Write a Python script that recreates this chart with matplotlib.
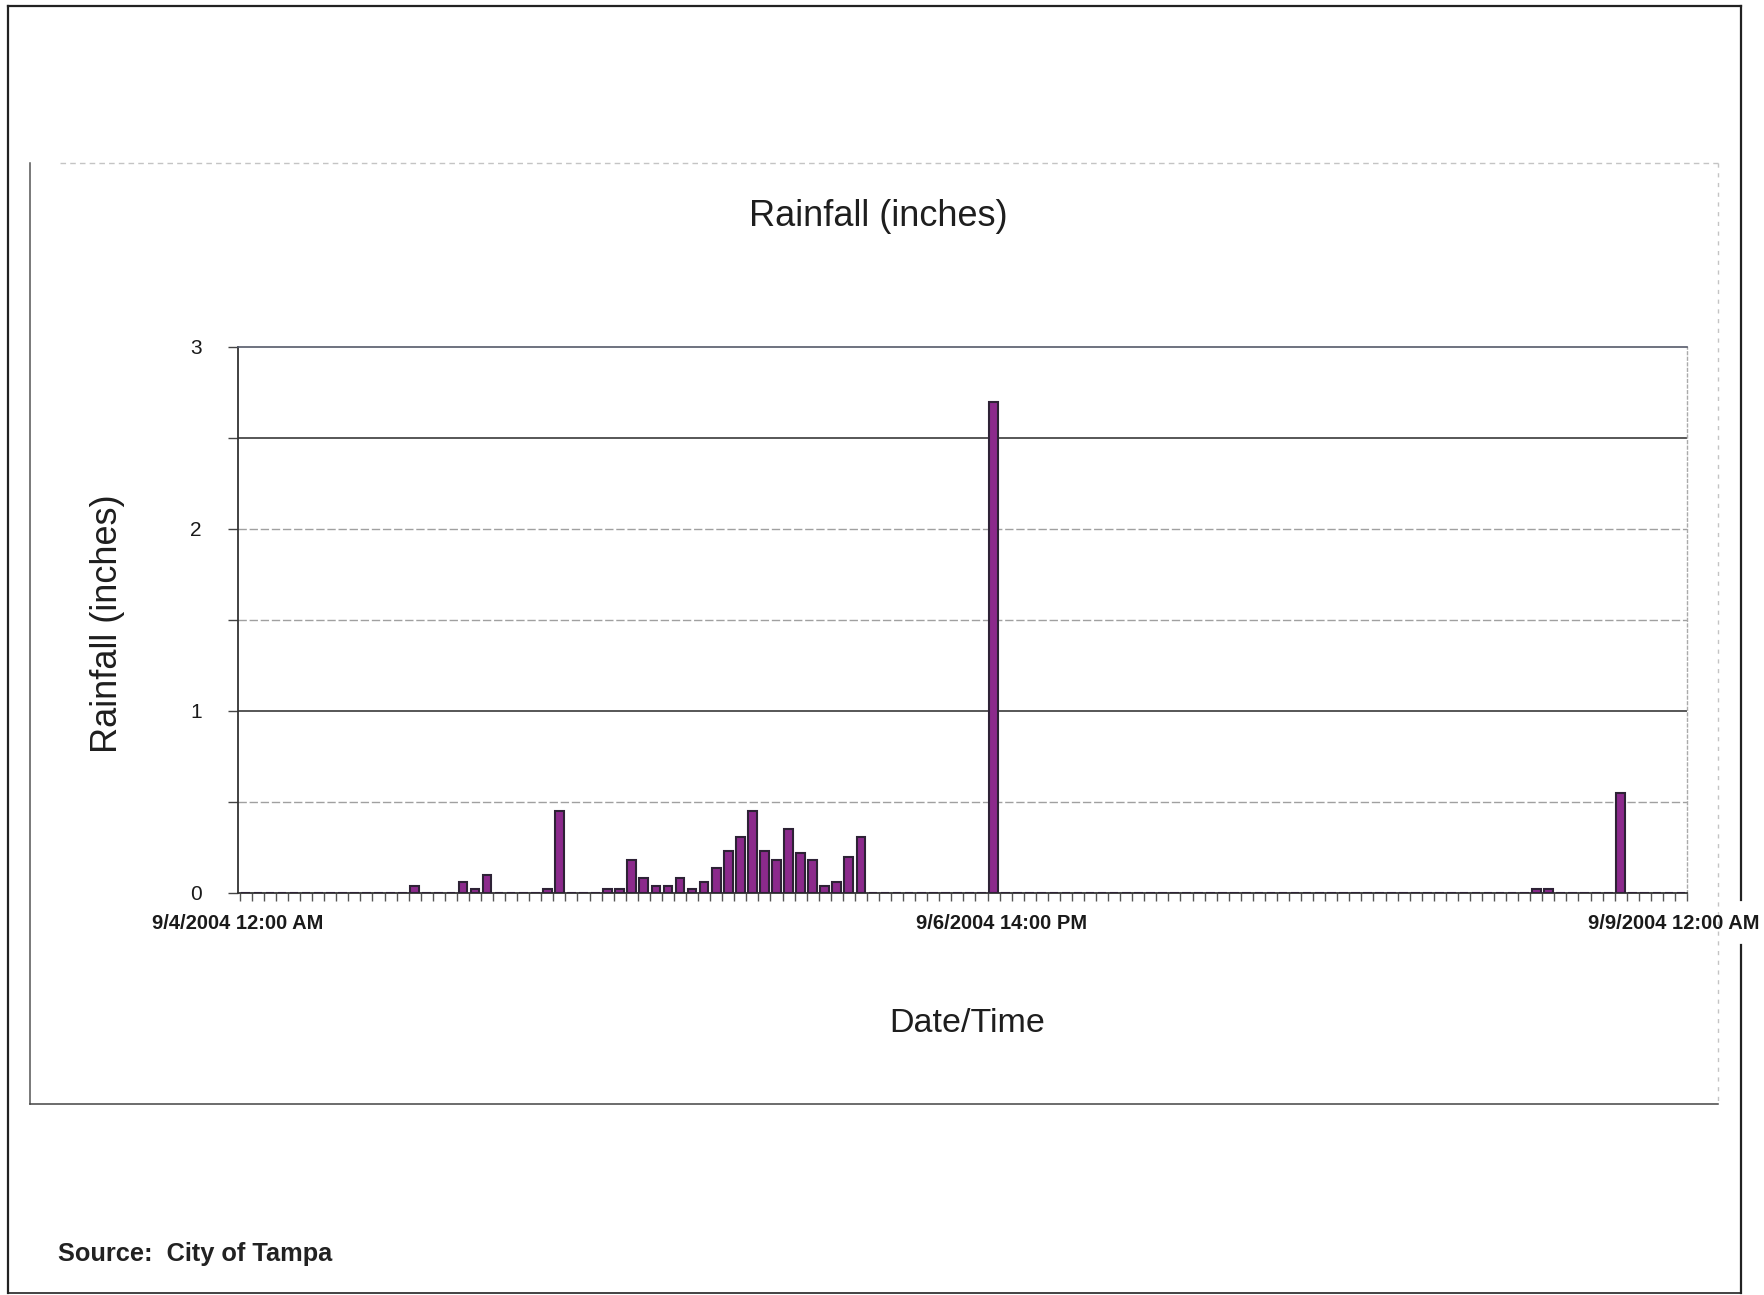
import numpy as np
import pandas as pd
import matplotlib
matplotlib.use("Agg")
import matplotlib.pyplot as plt
from matplotlib.lines import Line2D

plt.rcParams["font.family"] = ["Liberation Sans", "DejaVu Sans"]

# Hourly rainfall, 9/4/2004 00:00 through 9/8/2004 23:00 (inches)
hours = pd.date_range("2004-09-04 00:00", periods=120, freq="h")
rainfall = [
    0.00, 0.00, 0.00, 0.00, 0.00, 0.00, 0.00, 0.00, 0.00, 0.00, 0.00, 0.00,
    0.00, 0.00, 0.04, 0.00, 0.00, 0.00, 0.06, 0.02, 0.10, 0.00, 0.00, 0.00,
    0.00, 0.02, 0.45, 0.00, 0.00, 0.00, 0.02, 0.02, 0.18, 0.08, 0.04, 0.04,
    0.08, 0.02, 0.06, 0.14, 0.23, 0.31, 0.45, 0.23, 0.18, 0.35, 0.22, 0.18,
    0.04, 0.06, 0.20, 0.31, 0.00, 0.00, 0.00, 0.00, 0.00, 0.00, 0.00, 0.00,
    0.00, 0.00, 2.70, 0.00, 0.00, 0.00, 0.00, 0.00, 0.00, 0.00, 0.00, 0.00,
    0.00, 0.00, 0.00, 0.00, 0.00, 0.00, 0.00, 0.00, 0.00, 0.00, 0.00, 0.00,
    0.00, 0.00, 0.00, 0.00, 0.00, 0.00, 0.00, 0.00, 0.00, 0.00, 0.00, 0.00,
    0.00, 0.00, 0.00, 0.00, 0.00, 0.00, 0.00, 0.00, 0.00, 0.00, 0.00, 0.02,
    0.02, 0.00, 0.00, 0.00, 0.00, 0.00, 0.55, 0.00, 0.00, 0.00, 0.00, 0.00,
]
tick_hours = [0, 62, 119]
tick_labels = ["9/4/2004 12:00 AM", "9/6/2004 14:00 PM", "9/9/2004 12:00 AM"]
y_ticks = [0, 1, 2, 3]
grid_levels = [0.5, 1.0, 1.5, 2.0, 2.5]
strong_grid = [1.0, 2.5]

W, H = 1765, 1295
fig = plt.figure(figsize=(W / 100, H / 100), dpi=100)
fig.patch.set_facecolor("white")


def fx(x):
    return x / W


def fy(y):
    return 1 - y / H


def frame_line(xs, ys, **kw):
    ln = Line2D([fx(x) for x in xs], [fy(y) for y in ys],
                transform=fig.transFigure, zorder=-1, **kw)
    fig.add_artist(ln)


# page border
frame_line([8, 8], [6, 1293], color="#222222", lw=1.6)
frame_line([8, 1741], [6, 6], color="#222222", lw=1.6)
frame_line([1741, 1741], [6, 900], color="#222222", lw=1.6)
frame_line([1741, 1741], [945, 1293], color="#222222", lw=1.6)
frame_line([8, 1741], [1293, 1293], color="#222222", lw=1.2)

# chart area border
frame_line([30, 30], [163, 1104], color="#555555", lw=1.1)
frame_line([30, 1718], [1104, 1104], color="#444444", lw=1.1)
frame_line([60, 1718], [163, 163], color="#c4c4c4", lw=1.0, ls=(0, (4, 3)))
frame_line([1718, 1718], [163, 1104], color="#c4c4c4", lw=1.0, ls=(0, (3, 4)))

ax = fig.add_axes([fx(238), fy(893), fx(1687) - fx(238), (893 - 347) / H])
ax.set_facecolor("white")

x = np.arange(len(hours))
ax.bar(x, rainfall, width=0.72, color="#8c2a8c", edgecolor="#2e2236",
       linewidth=1.5, zorder=3)

ax.set_xlim(-0.5, len(hours) - 0.5)
ax.set_ylim(0, 3)

# horizontal gridlines
for lvl in grid_levels:
    if lvl in strong_grid:
        ax.axhline(lvl, color="#3a3a3a", lw=1.2, zorder=1)
    else:
        ax.axhline(lvl, color="#a0a0a0", lw=1.0, ls=(0, (6, 2)), zorder=1)

# y axis
ax.set_yticks(y_ticks)
ax.set_yticklabels([str(v) for v in y_ticks])
ax.set_yticks(grid_levels[0::2], minor=True)
ax.tick_params(axis="y", which="both", direction="out", length=7.2,
               width=1.0, color="#444444", pad=19, labelsize=15,
               labelcolor="#1a1a1a")

# x axis: labels at a few hours, tick marks between every hour
nudge = np.array([-0.65, 0.7, -0.6])
ax.set_xticks(np.array(tick_hours) + nudge)
ax.set_xticklabels(tick_labels, fontsize=14.5, fontweight="bold",
                   color="#1a1a1a")
ax.set_xticks(np.arange(-0.5, len(hours), 1.0), minor=True)
ax.tick_params(axis="x", which="major", length=0, pad=15)
ax.tick_params(axis="x", which="minor", direction="out", length=5.5,
               width=1.0, color="#555555")

for side in ["left", "bottom"]:
    ax.spines[side].set_color("#333333")
    ax.spines[side].set_linewidth(1.3)
ax.spines["top"].set_color("#555a6a")
ax.spines["top"].set_linewidth(1.2)
ax.spines["right"].set_color("#aaaaaa")
ax.spines["right"].set_linewidth(1.0)
ax.spines["right"].set_linestyle((0, (2, 2)))

# titles and notes
fig.text(fx(878), fy(216), "Rainfall (inches)", ha="center", va="center",
         fontsize=26, color="#1e1e1e")
fig.text(fx(108), fy(624), "Rainfall (inches)", ha="center", va="center",
         rotation=90, fontsize=26, color="#1e1e1e")
fig.text(fx(967), fy(1023), "Date/Time", ha="center", va="center",
         fontsize=24.5, color="#1e1e1e")
fig.text(fx(58), fy(1254), "Source:  City of Tampa", ha="left", va="center",
         fontsize=18.3, fontweight="bold", color="#222222")

fig.savefig("out.png", dpi=100, facecolor="white")
